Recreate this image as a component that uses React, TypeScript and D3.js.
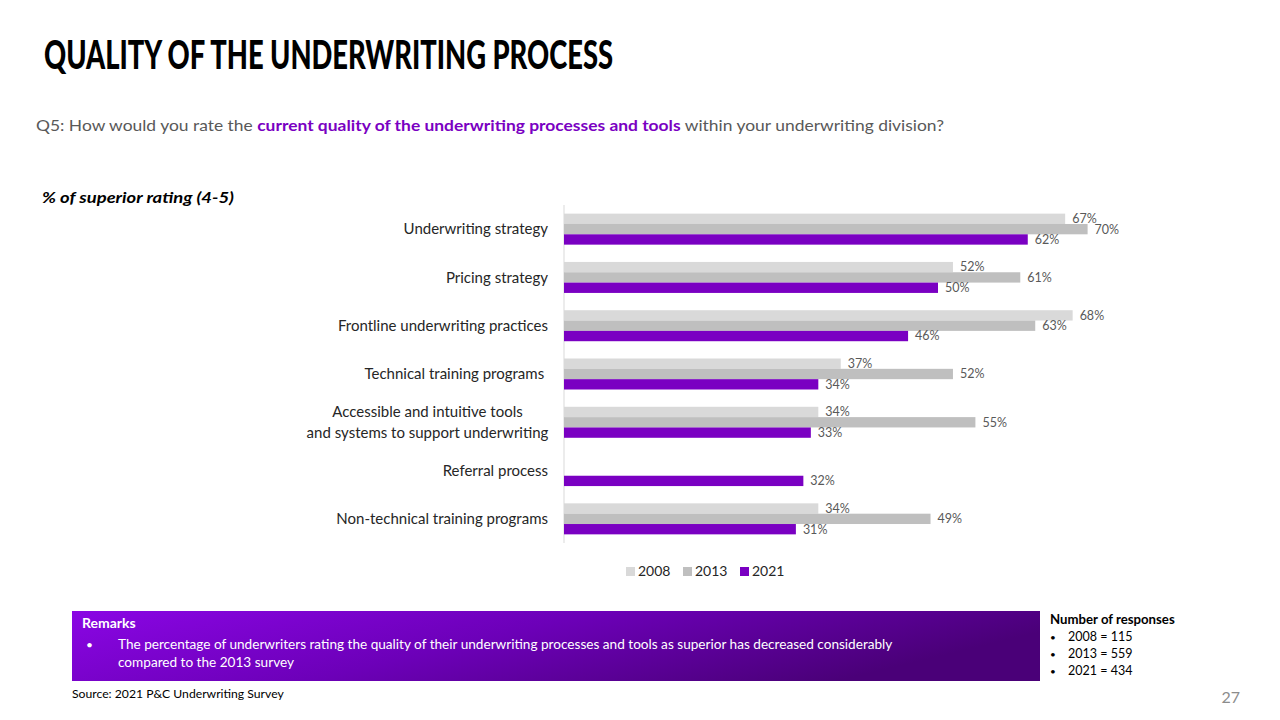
import React from "react";
import * as d3 from "d3";

const categories = [
  "Underwriting strategy",
  "Pricing strategy",
  "Frontline underwriting practices",
  "Technical training programs ",
  "Accessible and intuitive tools\nand systems to support underwriting",
  "Referral process",
  "Non-technical training programs",
];
const seriesNames = ["2008", "2013", "2021"];
const values2008: (number | null)[] = [67, 52, 68, 37, 34, null, 34];
const values2013: (number | null)[] = [70, 61, 63, 52, 55, null, 49];
const values2021: (number | null)[] = [62, 50, 46, 34, 33, 32, 31];
const seriesColors = ["#d9d9d9", "#bfbfbf", "#7a00c2"];
const responses = ["2008 = 115", "2013 = 559", "2021 = 434"];

const FONT = "Lato, 'Open Sans', sans-serif";

export default function App() {
  const series = [values2008, values2013, values2021];
  const x = d3.scaleLinear().domain([0, 100]).range([564, 564 + 748]);
  const y = d3.scaleBand<string>().domain(categories).range([205, 543]).padding(0);
  const inner = d3.scaleBand<string>().domain(seriesNames).range([-15.5, 15.5]).padding(0);
  const legendX = d3.scalePoint<string>().domain(seriesNames).range([626, 740]);

  return (
    <svg
      width={1280}
      height={720}
      style={{ position: "absolute", left: 0, top: 0, background: "#fff" }}
      fontFamily={FONT}
    >
      <defs>
        <linearGradient id="remarksGrad" x1="0" y1="0" x2="1" y2="0.3">
          <stop offset="0" stopColor="#8a06e4" />
          <stop offset="0.5" stopColor="#6c00b8" />
          <stop offset="1" stopColor="#4a0078" />
        </linearGradient>
      </defs>

      {/* Title */}
      <text
        x={44}
        y={69}
        fontSize={39}
        fontWeight={900}
        fill="#000"
        textLength={569}
        lengthAdjust="spacingAndGlyphs"
        fontFamily="Lato, sans-serif"
      >
        QUALITY OF THE UNDERWRITING PROCESS
      </text>

      {/* Question */}
      <text x={36} y={131} fontSize={16} fill="#595959" textLength={908} lengthAdjust="spacingAndGlyphs">
        <tspan>Q5: How would you rate the </tspan>
        <tspan fill="#7a00c2" fontWeight={700}>current quality of the underwriting processes and tools</tspan>
        <tspan> within your underwriting division?</tspan>
      </text>

      {/* Subtitle */}
      <text x={42} y={203} fontSize={16} fontWeight={700} fontStyle="italic" fill="#000" textLength={192} lengthAdjust="spacingAndGlyphs">
        % of superior rating (4-5)
      </text>

      {/* Axis line */}
      <line x1={564} x2={564} y1={205} y2={543} stroke="#d9d9d9" strokeWidth={1} />

      {/* Bars */}
      {categories.map((cat, ci) => {
        const cy = (y(cat) as number) + y.bandwidth() / 2;
        return (
          <g key={cat}>
            {series.map((vals, si) => {
              const v = vals[ci];
              if (v == null) return null;
              const by = cy + (inner(seriesNames[si]) as number);
              return (
                <g key={si}>
                  <rect
                    x={x(0)}
                    y={by}
                    width={x(v) - x(0)}
                    height={inner.bandwidth()}
                    fill={seriesColors[si]}
                  />
                  <text
                    x={x(v) + 7}
                    y={by + inner.bandwidth() / 2}
                    dy="0.35em"
                    fontSize={12.5}
                    fill="#595959"
                  >
                    {v}%
                  </text>
                </g>
              );
            })}
            {(() => {
              const lines = cat.split("\n");
              if (lines.length === 1) {
                return (
                  <text x={548} y={cy} dy="0.35em" fontSize={15} fill="#262626" textAnchor="end" style={{ whiteSpace: "pre" }}>
                    {cat}
                  </text>
                );
              }
              const center = 548 - 241 / 2;
              return (
                <text x={center} y={cy} fontSize={15} fill="#262626" textAnchor="middle">
                  {lines.map((l, li) => (
                    <tspan key={li} x={center} dy={li === 0 ? "-0.35em" : "1.4em"}>
                      {l}
                    </tspan>
                  ))}
                </text>
              );
            })()}
          </g>
        );
      })}

      {/* Legend */}
      {seriesNames.map((s, si) => {
        const lx = legendX(s) as number;
        return (
          <g key={s}>
            <rect x={lx} y={567} width={9} height={9} fill={seriesColors[si]} />
            <text x={lx + 12} y={571.5} dy="0.35em" fontSize={14} fill="#262626">
              {s}
            </text>
          </g>
        );
      })}

      {/* Remarks box */}
      <rect x={72} y={611} width={968} height={70} fill="url(#remarksGrad)" />
      <text x={82} y={628} fontSize={14} fontWeight={700} fill="#fff">
        Remarks
      </text>
      <text x={86} y={649} fontSize={12} fill="#fff">•</text>
      <text x={118} y={649} fontSize={13.6} fill="#fff">
        The percentage of underwriters rating the quality of their underwriting processes and tools as superior has decreased considerably
      </text>
      <text x={118} y={667} fontSize={13.6} fill="#fff">
        compared to the 2013 survey
      </text>

      {/* Number of responses */}
      <text x={1050} y={624} fontSize={13.2} fontWeight={700} fill="#000">
        Number of responses
      </text>
      {responses.map((r, i) => (
        <g key={r}>
          <text x={1050} y={641 + i * 17} fontSize={10} fill="#000">•</text>
          <text x={1068} y={641 + i * 17} fontSize={12.5} fill="#000">
            {r}
          </text>
        </g>
      ))}

      {/* Source */}
      <text x={72} y={698} fontSize={12.2} fill="#000">
        Source: 2021 P&amp;C Underwriting Survey
      </text>

      {/* Page number */}
      <text x={1240} y={703} fontSize={16} fill="#8c8c8c" textAnchor="end">
        27
      </text>
    </svg>
  );
}
